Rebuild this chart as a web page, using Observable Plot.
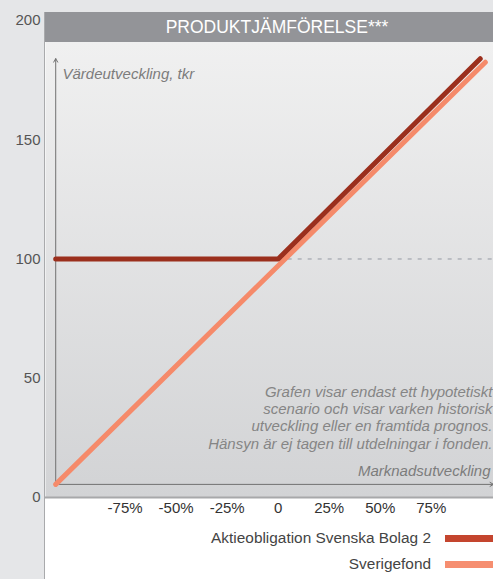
<!DOCTYPE html>
<html>
<head>
<meta charset="utf-8">
<script src="https://cdn.jsdelivr.net/npm/d3@7"></script>
<script src="https://cdn.jsdelivr.net/npm/@observablehq/plot@0.6"></script>
<style>
  html, body { margin: 0; padding: 0; }
  body { width: 493px; height: 579px; overflow: hidden; background: #e5e6e8; font-family: "Liberation Sans", Arial, sans-serif; }
  #wrap { position: relative; width: 493px; height: 579px; }
  #paper { position: absolute; left: 44px; top: 12px; width: 449px; height: 567px; background: #ffffff; border-left: 1.5px solid #a9aaac; box-sizing: border-box; }
  #chart { position: absolute; left: 0; top: 0; }
  #title { position: absolute; left: 45px; top: 12px; width: 448px; height: 30px; background: #939498; color: #ffffff;
           font-size: 17.5px; line-height: 31px; text-align: center; padding-left: 16px; box-sizing: border-box; }
  #legend { position: absolute; left: 45px; top: 525px; width: 448px; }
  .row { display: flex; justify-content: flex-end; align-items: center; height: 26px; }
  .row span { font-size: 15.4px; color: #444; margin-right: 14px; }
  .row i { display: block; width: 48px; height: 7px; }
</style>
</head>
<body>
<div id="wrap">
  <div id="paper"></div>
  <div id="chart"></div>
  <div id="title"></div>
  <div id="legend"></div>
</div>
<script>
// ---- data ----
const titleText = "PRODUKTJÄMFÖRELSE***";
const seriesNames = ["Aktieobligation Svenska Bolag 2", "Sverigefond"];
const aktieX = [-109, 0, 99];          // market development, %
const aktieY = [100, 100, 184];        // value, tkr
const sverigeX = [-109, 101.5];
const sverigeY = [5.5, 182.5];
const xDomain = [-114, 105.5];
const yDomain = [0, 203.35];
const xTicks = [-75, -50, -25, 0, 25, 50, 75];
const yTicks = [0, 50, 100, 150, 200];
const lineColors = ["#9b2f1d", "#f58a6a"];
const swatchColors = ["#c4452e", "#f68e70"];
const yLabel = "Värdeutveckling, tkr";
const xLabel = "Marknadsutveckling";
const noteText = "Grafen visar endast ett hypotetiskt\nscenario och visar varken historisk\nutveckling eller en framtida prognos.\nHänsyn är ej tagen till utdelningar i fonden.";

const aktie = aktieX.map((x, i) => ({x, y: aktieY[i]}));
const sverige = sverigeX.map((x, i) => ({x, y: sverigeY[i]}));
const x0 = d3.min([...aktieX, ...sverigeX]);
const y0 = d3.min(sverigeY);
const yTop = d3.max([...aktieY, ...sverigeY]);
const kinkX = aktieX[1];
const kinkY = aktieY[1];

const chart = Plot.plot({
  width: 493,
  height: 520,
  marginLeft: 45,
  marginRight: 0,
  marginTop: 12,
  marginBottom: 23,
  style: { fontFamily: "Liberation Sans, Arial, sans-serif", fontSize: "15px", background: "transparent", color: "#444" },
  x: { domain: xDomain, ticks: xTicks, tickSize: 0, tickPadding: 5, label: null,
       tickFormat: d => d === 0 ? "0" : `${d}%` },
  y: { domain: yDomain, ticks: yTicks, tickSize: 0, tickPadding: 5, label: null },
  marks: [
    Plot.frame({ fill: "url(#panelGrad)", stroke: null }),
    Plot.ruleY([0], { stroke: "#a7a8aa", strokeWidth: 2 }),
    Plot.ruleY([{ y: kinkY, x1: kinkX, x2: xDomain[1] }], { y: "y", x1: "x1", x2: "x2", stroke: "#9499a2", strokeWidth: 1, strokeDasharray: "4,6" }),
    Plot.arrow([{ x1: x0, y1: y0, x2: x0, y2: yTop }], { x1: "x1", y1: "y1", x2: "x2", y2: "y2", stroke: "#707070", strokeWidth: 1, headLength: 6 }),
    Plot.arrow([{ x1: x0, y1: y0, x2: xDomain[1], y2: y0 }], { x1: "x1", y1: "y1", x2: "x2", y2: "y2", stroke: "#707070", strokeWidth: 1, headLength: 6 }),
    Plot.text([yLabel], { frameAnchor: "top-left", dx: 17, dy: 62, textAnchor: "start", lineAnchor: "middle", fill: "#7c7c7c", fontStyle: "italic", fontSize: 15 }),
    Plot.text([xLabel], { frameAnchor: "bottom-right", dx: -3, dy: -26.5, textAnchor: "end", lineAnchor: "middle", fill: "#7c7c7c", fontStyle: "italic", fontSize: 15 }),
    Plot.text([noteText], { frameAnchor: "bottom-right", dx: -1, dy: -49, textAnchor: "end", lineAnchor: "bottom", lineHeight: 1.155, fill: "#858585", fontStyle: "italic", fontSize: 15 }),
    Plot.line(sverige, { x: "x", y: "y", stroke: lineColors[1], strokeWidth: 5, strokeLinecap: "round", strokeLinejoin: "round" }),
    Plot.line(aktie, { x: "x", y: "y", stroke: lineColors[0], strokeWidth: 5, strokeLinecap: "round", strokeLinejoin: "round" })
  ]
});

// gradient for the panel background
const ns = "http://www.w3.org/2000/svg";
const defs = document.createElementNS(ns, "defs");
const grad = document.createElementNS(ns, "linearGradient");
grad.setAttribute("id", "panelGrad");
grad.setAttribute("x1", "0"); grad.setAttribute("y1", "0");
grad.setAttribute("x2", "0"); grad.setAttribute("y2", "1");
[["0", "#f2f2f2"], ["1", "#d2d3d5"]].forEach(([o, c]) => {
  const s = document.createElementNS(ns, "stop");
  s.setAttribute("offset", o); s.setAttribute("stop-color", c);
  grad.appendChild(s);
});
defs.appendChild(grad);
chart.insertBefore(defs, chart.firstChild);
chart.querySelectorAll("[aria-label='y-axis tick label'] text").forEach(t => t.setAttribute("fill", "#555"));
chart.querySelectorAll("[aria-label='x-axis tick label'] text").forEach(t => t.setAttribute("fill", "#333"));

document.getElementById("chart").appendChild(chart);
document.getElementById("title").textContent = titleText;

const legend = document.getElementById("legend");
seriesNames.forEach((name, i) => {
  const row = document.createElement("div");
  row.className = "row";
  const s = document.createElement("span"); s.textContent = name;
  const sw = document.createElement("i"); sw.style.background = swatchColors[i];
  row.appendChild(s); row.appendChild(sw);
  legend.appendChild(row);
});
</script>
</body>
</html>
